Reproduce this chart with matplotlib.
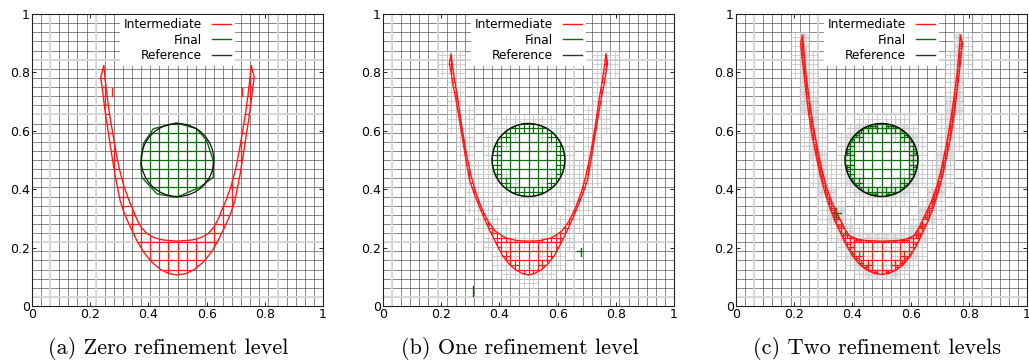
import numpy as np
import matplotlib.pyplot as plt
from matplotlib.path import Path
from matplotlib.patches import PathPatch, Circle
from matplotlib.collections import LineCollection
from matplotlib.lines import Line2D

# base mesh resolution
n_base = 32

# left half of the red band (tip -> bottom centre), mirrored about x = 0.5
outer_a_x = [0.236, 0.241, 0.247, 0.255, 0.263, 0.272, 0.285, 0.303, 0.318, 0.337, 0.36, 0.383, 0.41, 0.44, 0.47, 0.5]
outer_a_y = [0.782, 0.75, 0.70, 0.64, 0.59, 0.53, 0.45, 0.36, 0.315, 0.272, 0.225, 0.185, 0.152, 0.126, 0.111, 0.106]
inner_a_x = [0.247, 0.251, 0.258, 0.266, 0.276, 0.288, 0.300, 0.316, 0.334, 0.347, 0.36, 0.375, 0.395, 0.42, 0.45, 0.5]
inner_a_y = [0.825, 0.78, 0.72, 0.66, 0.60, 0.53, 0.47, 0.41, 0.36, 0.33, 0.298, 0.27, 0.248, 0.234, 0.226, 0.222]

outer_b_x = [0.228, 0.234, 0.24, 0.251, 0.262, 0.274, 0.285, 0.297, 0.313, 0.331, 0.348, 0.366, 0.39, 0.411, 0.435, 0.457, 0.48, 0.5]
outer_b_y = [0.83, 0.80, 0.76, 0.705, 0.64, 0.568, 0.50, 0.432, 0.385, 0.34, 0.30, 0.26, 0.212, 0.172, 0.142, 0.123, 0.111, 0.106]
inner_b_x = [0.234, 0.238, 0.245, 0.257, 0.27, 0.287, 0.303, 0.32, 0.34, 0.36, 0.385, 0.42, 0.46, 0.5]
inner_b_y = [0.865, 0.83, 0.78, 0.71, 0.62, 0.52, 0.445, 0.385, 0.333, 0.292, 0.257, 0.234, 0.224, 0.222]

outer_c_x = [0.222, 0.227, 0.237, 0.248, 0.26, 0.274, 0.288, 0.305, 0.322, 0.338, 0.356, 0.378, 0.402, 0.425, 0.448, 0.474, 0.5]
outer_c_y = [0.90, 0.85, 0.763, 0.67, 0.591, 0.52, 0.454, 0.39, 0.337, 0.295, 0.257, 0.21, 0.169, 0.142, 0.124, 0.112, 0.108]
inner_c_x = [0.229, 0.233, 0.24, 0.25, 0.262, 0.276, 0.292, 0.31, 0.33, 0.356, 0.375, 0.39, 0.42, 0.448, 0.5]
inner_c_y = [0.93, 0.88, 0.80, 0.72, 0.64, 0.56, 0.48, 0.41, 0.355, 0.30, 0.262, 0.24, 0.228, 0.224, 0.222]

# coarse green region of panel (a)
final_a_x = [0.497, 0.566, 0.60, 0.623, 0.623, 0.577, 0.497, 0.429, 0.377, 0.374, 0.383, 0.417]
final_a_y = [0.627, 0.607, 0.567, 0.498, 0.441, 0.407, 0.372, 0.384, 0.441, 0.487, 0.556, 0.607]

# reference circle
circle_cx, circle_cy, circle_r = 0.5, 0.5, 0.125

# refinement levels per panel
levels = [0, 1, 2]
captions = ['(a) Zero refinement level', '(b) One refinement level', '(c) Two refinement levels']
caption_x = [168, 520, 877]
axes_left = [32, 383, 736]

# mesh lines that show up lighter in the raster
light_x = [[0.0625, 0.21875, 0.84375], [0.03125, 0.1875, 0.65625], [0.0625, 0.28125, 0.84375]]
light_y = [[0.03125, 0.21875, 0.65625, 0.84375], [0.03125, 0.21875, 0.84375], [0.03125, 0.65625, 0.84375]]

# small stray bits of the meshes (x0, y0, x1, y1)
stray_red = [[(0.275, 0.72, 0.275, 0.745), (0.72, 0.72, 0.72, 0.745)], [], []]
stray_green = [[], [(0.31, 0.035, 0.31, 0.068), (0.68, 0.172, 0.68, 0.2), (0.668, 0.188, 0.684, 0.188)],
               [(0.345, 0.305, 0.345, 0.335), (0.333, 0.32, 0.36, 0.32)]]

RED = '#ff1a1a'
GREEN = '#0b6b0b'


def band_path(ox, oy, ix, iy):
    ox, oy, ix, iy = map(np.asarray, (ox, oy, ix, iy))
    out_x = np.concatenate([ox, (1 - ox)[::-1][1:]])
    out_y = np.concatenate([oy, oy[::-1][1:]])
    in_x = np.concatenate([ix, (1 - ix)[::-1][1:]])
    in_y = np.concatenate([iy, iy[::-1][1:]])
    xs = np.concatenate([out_x, in_x[::-1], out_x[:1]])
    ys = np.concatenate([out_y, in_y[::-1], out_y[:1]])
    return Path(np.column_stack([xs, ys]))


def circle_path(cx, cy, r):
    t = np.linspace(0, 2 * np.pi, 200)
    return Path(np.column_stack([cx + r * np.cos(t), cy + r * np.sin(t)]))


def mixed(path, x, y, w, ns=6):
    sx = np.linspace(x + w / (2 * ns), x + w - w / (2 * ns), ns)
    sy = np.linspace(y + w / (2 * ns), y + w - w / (2 * ns), ns)
    pts = np.array([(a, b) for a in sx for b in sy])
    inside = path.contains_points(pts)
    return inside.any(), inside.all()


def region_cells(path, depth):
    out = []

    def visit(x, y, h, d):
        anyin, allin = mixed(path, x, y, h)
        if not anyin:
            return
        if allin or d == 0:
            out.append((x, y, h))
            return
        for dx in (0, h / 2):
            for dy in (0, h / 2):
                visit(x + dx, y + dy, h / 2, d - 1)

    h = 1.0 / n_base
    for i in range(n_base):
        for j in range(n_base):
            visit(i * h, j * h, h, depth)
    return out


def halo_cells(paths, depth):
    # background cells close to an interface get refined too
    ring, cross = [], []
    h = 1.0 / n_base
    for i in range(n_base):
        for j in range(n_base):
            x, y = i * h, j * h
            near = on = False
            for p in paths:
                anyin, allin = mixed(p, x - h * 0.6, y - h * 0.6, h * 2.2, ns=8)
                if anyin and not allin:
                    near = True
                anyin, allin = mixed(p, x, y, h, ns=6)
                if anyin and not allin:
                    on = True
            if near:
                ring += [(x + a * h / 2, y + b * h / 2, h / 2) for a in range(2) for b in range(2)]
            if on and depth > 1:
                cross += [(x + a * h / 4, y + b * h / 4, h / 4) for a in range(4) for b in range(4)]
    return ring, cross


def cell_segments(cells):
    segs = []
    for x, y, h in cells:
        segs += [[(x, y), (x + h, y)], [(x + h, y), (x + h, y + h)],
                 [(x + h, y + h), (x, y + h)], [(x, y + h), (x, y)]]
    return segs


bands = [band_path(outer_a_x, outer_a_y, inner_a_x, inner_a_y),
         band_path(outer_b_x, outer_b_y, inner_b_x, inner_b_y),
         band_path(outer_c_x, outer_c_y, inner_c_x, inner_c_y)]
finals = [Path(np.column_stack([final_a_x + final_a_x[:1], final_a_y + final_a_y[:1]])),
          circle_path(circle_cx, circle_cy, circle_r),
          circle_path(circle_cx, circle_cy, circle_r)]

fig = plt.figure(figsize=(10.29, 3.64), dpi=100)
W, H = 1029, 364

for k in range(3):
    ax = fig.add_axes([axes_left[k] / W, 1 - 306 / H, 291 / W, 292 / H])
    ax.set_xlim(0, 1)
    ax.set_ylim(0, 1)

    # background mesh
    grid = np.arange(1, n_base) / n_base
    ax.vlines(grid, 0, 1, colors='#5a5a5a', lw=0.5, zorder=1)
    ax.hlines(grid, 0, 1, colors='#5a5a5a', lw=0.5, zorder=1)
    ax.vlines(light_x[k], 0, 1, colors='#dadada', lw=1.3, zorder=1.2)
    ax.hlines(light_y[k], 0, 1, colors='#dadada', lw=1.3, zorder=1.2)

    if levels[k] > 0:
        ring, cross = halo_cells([bands[k], finals[k]], levels[k])
        ax.add_collection(LineCollection(cell_segments(ring), colors='#c6c6c6', lw=0.4, zorder=1.5))
        if cross:
            ax.add_collection(LineCollection(cell_segments(cross), colors='#d0d0d0', lw=0.3, zorder=1.4))

    # intermediate (red) mesh
    ax.add_patch(PathPatch(bands[k], fc='none', ec=RED, lw=1.0, zorder=4))
    lc = LineCollection(cell_segments(region_cells(bands[k], levels[k])), colors=RED, lw=0.8, zorder=3)
    ax.add_collection(lc)
    lc.set_clip_path(PathPatch(bands[k], transform=ax.transData))

    # final (green) mesh
    ax.add_patch(PathPatch(finals[k], fc='none', ec=GREEN, lw=1.0, zorder=4))
    lc = LineCollection(cell_segments(region_cells(finals[k], levels[k])), colors=GREEN, lw=0.8, zorder=3)
    ax.add_collection(lc)
    lc.set_clip_path(PathPatch(finals[k], transform=ax.transData))

    ax.add_patch(Circle((circle_cx, circle_cy), circle_r, fill=False, ec='#111111', lw=0.9, zorder=5))

    for x0, y0, x1, y1 in stray_red[k]:
        ax.plot([x0, x1], [y0, y1], color=RED, lw=1.0, zorder=3)
    for x0, y0, x1, y1 in stray_green[k]:
        ax.plot([x0, x1], [y0, y1], color=GREEN, lw=1.0, zorder=3)

    ticks = [0, 0.2, 0.4, 0.6, 0.8, 1]
    labels = ['0', '0.2', '0.4', '0.6', '0.8', '1']
    ax.set_xticks(ticks)
    ax.set_xticklabels(labels)
    ax.set_yticks(ticks)
    ax.set_yticklabels(labels)
    ax.tick_params(direction='in', length=3, width=0.6, top=True, right=True, labelsize=9, pad=1.5)
    for s in ax.spines.values():
        s.set_linewidth(0.8)
        s.set_color('#222222')
        s.set_zorder(6)

    handles = [Line2D([], [], color=RED, lw=1.0), Line2D([], [], color=GREEN, lw=1.0),
               Line2D([], [], color='#333333', lw=1.0)]
    leg = ax.legend(handles, ['Intermediate', 'Final', 'Reference'], loc='upper center',
                    markerfirst=False, fontsize=8.7, handlelength=1.6, borderpad=0.3,
                    labelspacing=0.2, borderaxespad=0.05, fancybox=False, framealpha=1)
    leg.get_frame().set_edgecolor('none')
    leg.set_zorder(10)

    fig.text(caption_x[k] / W, 1 - 349 / H, captions[k], family='cmr10', fontsize=16,
             ha='center', va='center')

fig.savefig('out.png', dpi=100)
